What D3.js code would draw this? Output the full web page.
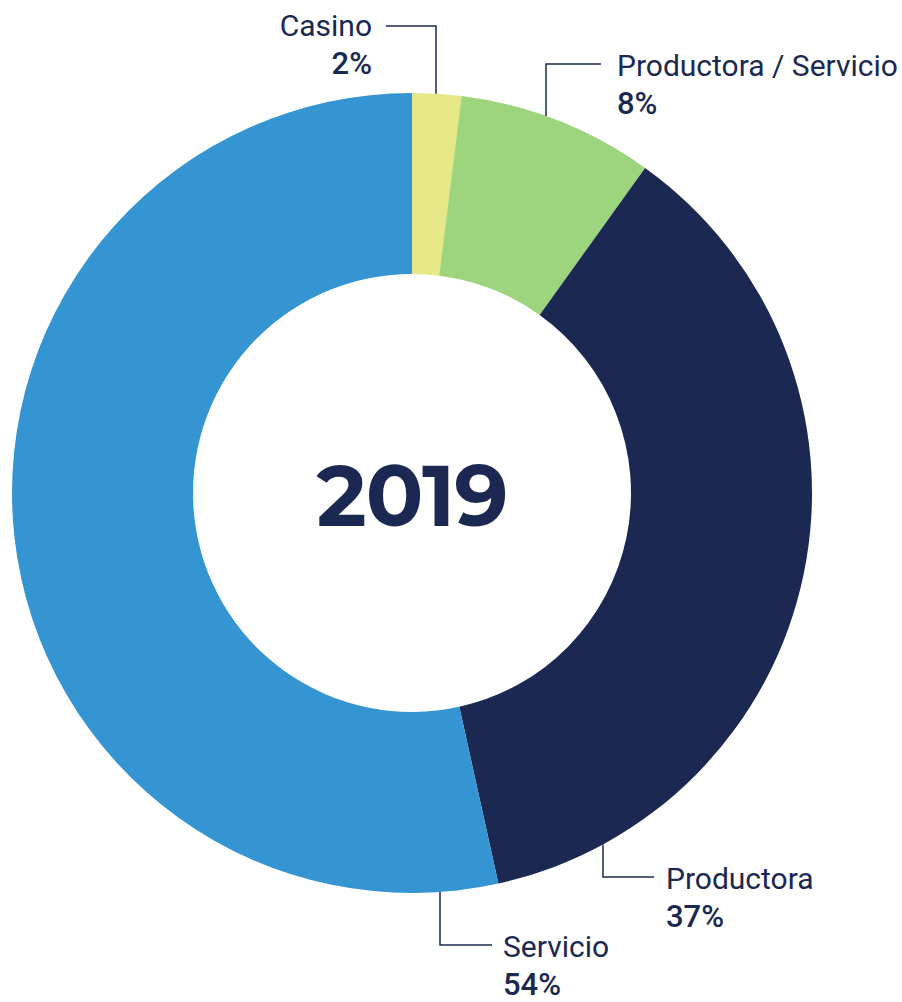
<!DOCTYPE html>
<html><head><meta charset="utf-8">
<script src="https://cdn.jsdelivr.net/npm/d3@7"></script>
<style>body{margin:0;background:#fff}svg{display:block}</style>
</head><body>
<script>
const categories = ["Casino", "Productora / Servicio", "Productora", "Servicio"];
const values = [2, 8, 37, 54];
const colors = ["#e6e887", "#9dd47e", "#1b2852", "#3595d3"];
const centerLabel = "2019";

const W = 902, H = 1002, cx = 412, cy = 493, R = 400, r0 = 219;
const ink = "#1b2852";
const svg = d3.select("body").append("svg").attr("width", W).attr("height", H);
const g = svg.append("g").attr("transform", `translate(${cx},${cy})`);
const pie = d3.pie().sort(null).value(d => d)(values);
const arc = d3.arc().innerRadius(r0).outerRadius(R);
g.selectAll("path").data(pie).enter().append("path")
  .attr("d", arc).attr("fill", (d, i) => colors[i]);

g.append("text").attr("text-anchor", "middle").attr("y", 33)
  .attr("font-family", "Montserrat, Inter, sans-serif").attr("font-weight", 700)
  .attr("font-size", 85).attr("fill", ink).attr("letter-spacing", -1).text(centerLabel);

// label layout: anchor x on outer arc, elbow, text position
const layout = [
  {ax: 436, side: -1, ey: 26, hx: 386, tx: 372, ty: 36, anchor: "end"},
  {ax: 546, side: -1, ey: 64, hx: 601, tx: 617, ty: 76, anchor: "start"},
  {ax: 603, side: 1, ey: 877, hx: 654, tx: 666, ty: 889, anchor: "start"},
  {ax: 440, side: 1, ey: 945, hx: 492, tx: 503, ty: 957, anchor: "start"}
];
const font = "Roboto, 'Noto Sans', sans-serif";
layout.forEach((L, i) => {
  const dx = L.ax - cx;
  const ay = cy + L.side * Math.sqrt(R * R - dx * dx);
  svg.append("path").attr("d", `M${L.ax},${ay}V${L.ey}H${L.hx}`)
    .attr("fill", "none").attr("stroke", ink).attr("stroke-width", 1.5);
  const t = svg.append("text").attr("x", L.tx).attr("y", L.ty).attr("text-anchor", L.anchor)
    .attr("font-family", font).attr("fill", ink);
  t.append("tspan").attr("font-size", 30).attr("font-weight", 400).text(categories[i]);
  t.append("tspan").attr("x", L.tx).attr("dy", 38).attr("font-size", 31).attr("font-weight", 500).text(values[i] + "%");
});
</script>
</body></html>
